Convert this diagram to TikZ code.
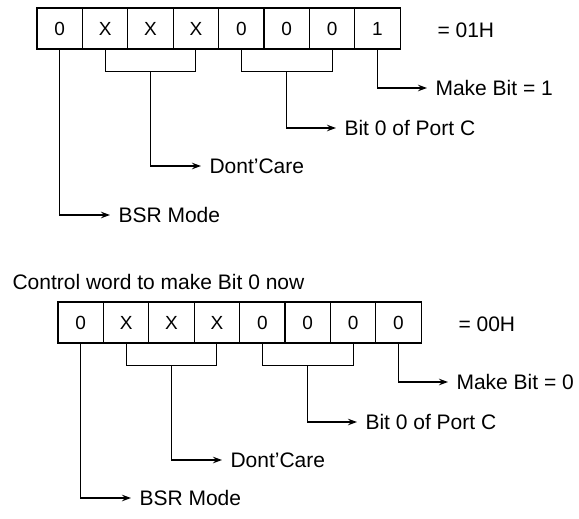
\documentclass[tikz,border=0pt]{standalone}
\usepackage{fontspec}
\setmainfont{Liberation Sans}
\usetikzlibrary{arrows.meta, calc}

\begin{document}
\begin{tikzpicture}[x=1pt, y=-1pt, line width=1.1pt,
  cell/.style={draw, minimum width=45.4pt, minimum height=41pt, inner sep=0pt, font=\fontsize{19}{19}\selectfont},
  lbl/.style={anchor=west, inner xsep=8pt, inner ysep=0pt, text height=15pt, text depth=0pt, font=\fontsize{21}{25}\selectfont},
  arrow/.style={-{Stealth[length=9pt, width=6.5pt]}}]
  \useasboundingbox (0,0) rectangle (579,519);
  \node[lbl, inner xsep=0pt] (title) at (12,282) {Control word to make Bit 0 now};
  % two control words: set bit 0, then reset it
  \foreach \reg/\sx/\sy/\lowbit/\hexval/\bsry in {a/37/8/1/01H/207, b/58/302/0/00H/196} {
    \begin{scope}[shift={(\sx,\sy)}]
      \foreach \i/\v in {1/0,2/X,3/X,4/X,5/0,6/0,7/0,8/\lowbit}
        \node[cell] (\reg\i) at ({45.4*\i-22.7}, 20.5) {\v};
      \node[lbl, inner xsep=0pt] (\reg-hex) at (400,22) {= \hexval};
      \node[lbl] (\reg-make) at (390,80) {Make Bit = \lowbit};
      \node[lbl] (\reg-port) at (299,120) {Bit 0 of Port C};
      \node[lbl] (\reg-dc) at (164,158) {Dont'Care};
      \node[lbl] (\reg-bsr) at (73,\bsry) {BSR Mode};
      \draw (\reg2.south) -- ++(0,22) -| (\reg4.south);
      \draw (\reg5.south) -- ++(0,22) -| (\reg7.south);
      \draw[arrow] (\reg8.south) |- (\reg-make.west);
      \draw[arrow] ($(\reg6.south)+(0,22)$) |- (\reg-port.west);
      \draw[arrow] ($(\reg3.south)+(0,22)$) |- (\reg-dc.west);
      \draw[arrow] (\reg1.south) |- (\reg-bsr.west);
    \end{scope}
  }
\end{tikzpicture}
\end{document}
